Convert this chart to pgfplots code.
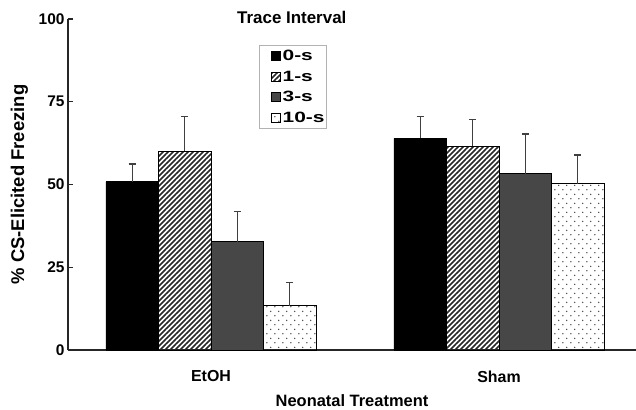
\documentclass[border=0pt]{standalone}
\usepackage{fontspec}
\setmainfont{Liberation Sans}
\newfontfamily\legfont{Liberation Sans}[FakeStretch=1.4]
\usepackage{pgfplots}
\pgfplotsset{compat=1.18}
\usetikzlibrary{patterns,patterns.meta}
\pgfdeclarepatternformonly{sdots}{\pgfqpoint{0bp}{0bp}}{\pgfqpoint{7.8bp}{9.4bp}}{\pgfqpoint{7.8bp}{9.4bp}}{%
  \pgfpathcircle{\pgfqpoint{1.95bp}{2.35bp}}{0.75bp}%
  \pgfpathcircle{\pgfqpoint{5.85bp}{7.05bp}}{0.75bp}%
  \pgfusepath{fill}}
\definecolor{darkbar}{HTML}{474747}
\pgfplotsset{
  mybar/.style={draw=black, line width=0.9bp,
    error bars/.cd, y dir=plus, y explicit,
    error bar style={black!75, line width=1.3bp},
    error mark options={rotate=90, black!75, line width=1.3bp, mark size=3.5bp, solid},
    /pgfplots/.cd,
    legend image code/.code={\path (-12bp,0bp); \draw[##1, line width=0.8bp] (0bp,-4.5bp) rectangle (9bp,4.5bp);}},
}
\begin{document}
\begin{tikzpicture}
\begin{axis}[
  name=ax,
  scale only axis, width=568bp, height=331bp,
  xmin=-0.4965, xmax=1.4757, ymin=0, ymax=100,
  axis lines*=left,
  axis line style={black!85, line width=1.2bp},
  ytick={0,25,50,75,100},
  xtick={0,1}, xticklabels={EtOH,Sham},
  major x tick style={draw=none},
  ytick style={black!85, line width=1.1bp},
  tick align=inside, major tick length=5bp,
  /pgf/number format/assume math mode=true,
  ticklabel style={font=\fontsize{15.5}{16}\selectfont\bfseries},
  xticklabel style={yshift=-12bp, font=\fontsize{16}{16}\selectfont\bfseries},
  xlabel={Neonatal Treatment},
  xlabel style={at={(axis description cs:0.5,-0.172)}, anchor=base, font=\fontsize{16.5}{17}\selectfont\bfseries},
  ylabel={\% CS-Elicited Freezing},
  ylabel style={at={(axis description cs:-0.0854,0.5)}, anchor=center, font=\fontsize{18.5}{19}\selectfont\bfseries},
  title={Trace Interval},
  title style={at={(axis description cs:0.394,0.967)}, anchor=base, font=\fontsize{17}{17}\selectfont\bfseries},
  legend style={at={(axis description cs:0.336,0.921)}, anchor=north west,
    draw=black!30, line width=0.9bp, inner xsep=0pt, inner ysep=0pt,
    nodes={inner xsep=1.5bp, inner ysep=4.4bp},
    font=\fontsize{15}{15}\selectfont\legfont\bfseries},
  legend cell align=left,
  ybar, bar width=0.18229,
]
\addplot[mybar, fill=black, bar shift=-0.27344] coordinates {(0,50.8) +- (0,5.4) (1,63.9) +- (0,6.6)};
\addplot[mybar, pattern={Lines[angle=45,distance=3.5355bp,line width=1.6bp]}, pattern color=black!85, bar shift=-0.09115] coordinates {(0,60.1) +- (0,10.4) (1,61.6) +- (0,8.1)};
\addplot[mybar, fill=darkbar, bar shift=0.09115] coordinates {(0,32.7) +- (0,9.1) (1,53.3) +- (0,12.0)};
\addplot[mybar, pattern=sdots, pattern color=black!75, bar shift=0.27344] coordinates {(0,13.4) +- (0,6.9) (1,50.2) +- (0,8.7)};
\legend{0-s,1-s,3-s,10-s}
\end{axis}
\pgfresetboundingbox
\path[use as bounding box] ([shift={(-68bp,-60bp)}]ax.south west) rectangle ([shift={(0bp,19bp)}]ax.north east);
\end{tikzpicture}
\end{document}
